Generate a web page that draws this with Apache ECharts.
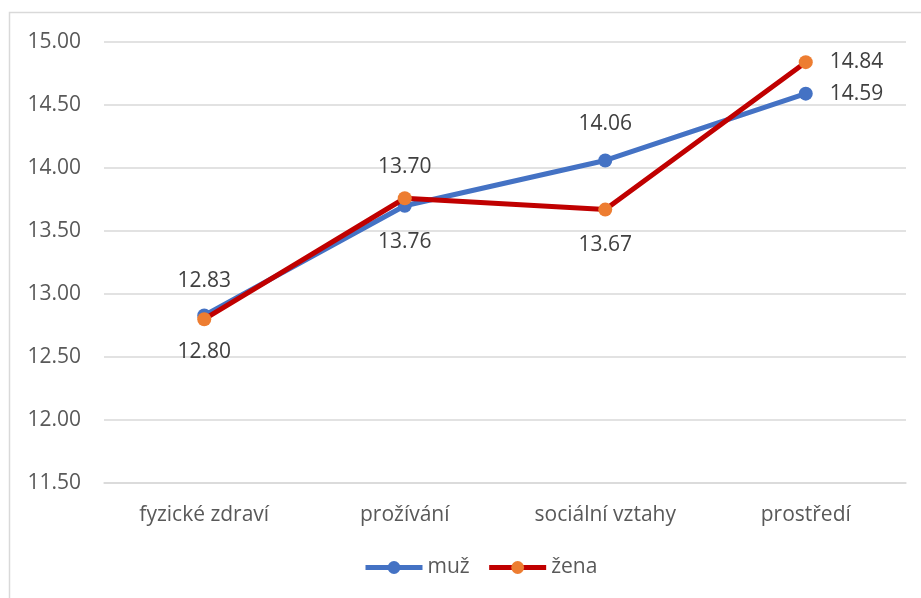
<!DOCTYPE html>
<html>
<head>
<meta charset="utf-8">
<script src="https://cdn.jsdelivr.net/npm/echarts@6/dist/echarts.min.js"></script>
<style>
  html, body { margin: 0; padding: 0; background: #fff; }
  #chart { width: 921px; height: 598px; }
</style>
</head>
<body>
<div id="chart"></div>
<script>
// Domains of quality of life and mean scores by sex
const categories = ['fyzické zdraví', 'prožívání', 'sociální vztahy', 'prostředí'];
const muz = [12.83, 13.70, 14.06, 14.59];
const zena = [12.80, 13.76, 13.67, 14.84];
const seriesNames = ['muž', 'žena'];

const FONT = '"Open Sans", sans-serif';
const TEXT = '#595959';

// label placement per point: [position, distance]
const muzLabelPos = [['top', 17], ['top', 21], ['top', 19], ['right', 17]];
const zenaLabelPos = [['bottom', 15], ['bottom', 26], ['bottom', 18], ['right', 17]];

function withLabels(values, placement) {
  return values.map((v, i) => ({
    value: v,
    label: { position: placement[i][0], distance: placement[i][1] }
  }));
}

const chart = echarts.init(document.getElementById('chart'));
chart.setOption({
  animation: false,
  textStyle: { fontFamily: FONT },
  graphic: [{
    type: 'rect',
    shape: { x: 9.5, y: 12.5, width: 1000, height: 1000 },
    style: { fill: 'none', stroke: '#D9D9D9', lineWidth: 1.5 },
    silent: true
  }],
  grid: { left: 104, right: 15, top: 42, bottom: 115 },
  legend: {
    data: seriesNames,
    left: 363,
    top: 557,
    padding: 0,
    itemWidth: 57,
    itemHeight: 16,
    itemGap: 17,
    lineStyle: { width: 5 },
    textStyle: { color: TEXT, fontSize: 21, fontFamily: FONT }
  },
  xAxis: {
    type: 'category',
    data: categories,
    boundaryGap: true,
    axisLine: { show: true, lineStyle: { color: '#D9D9D9', width: 1.5 } },
    axisTick: { show: false },
    axisLabel: { color: TEXT, fontSize: 21, fontFamily: FONT, margin: 22 }
  },
  yAxis: {
    type: 'value',
    min: 11.5,
    max: 15,
    interval: 0.5,
    axisLine: { show: false },
    axisTick: { show: false },
    splitLine: { lineStyle: { color: '#D9D9D9', width: 1.5 } },
    axisLabel: {
      color: TEXT, fontSize: 21, fontFamily: FONT, margin: 23,
      formatter: v => v.toFixed(2)
    }
  },
  series: [
    {
      name: seriesNames[0],
      type: 'line',
      data: withLabels(muz, muzLabelPos),
      symbol: 'circle',
      symbolSize: 14,
      lineStyle: { color: '#4472C4', width: 5 },
      itemStyle: { color: '#4472C4' },
      label: {
        show: true, color: '#404040', fontSize: 21, fontFamily: FONT,
        formatter: p => Number(p.value).toFixed(2)
      },
      z: 2
    },
    {
      name: seriesNames[1],
      type: 'line',
      data: withLabels(zena, zenaLabelPos),
      symbol: 'circle',
      symbolSize: 14,
      lineStyle: { color: '#C00000', width: 5 },
      itemStyle: { color: '#ED7D31' },
      label: {
        show: true, color: '#404040', fontSize: 21, fontFamily: FONT,
        formatter: p => Number(p.value).toFixed(2)
      },
      z: 3
    }
  ]
});
</script>
</body>
</html>
